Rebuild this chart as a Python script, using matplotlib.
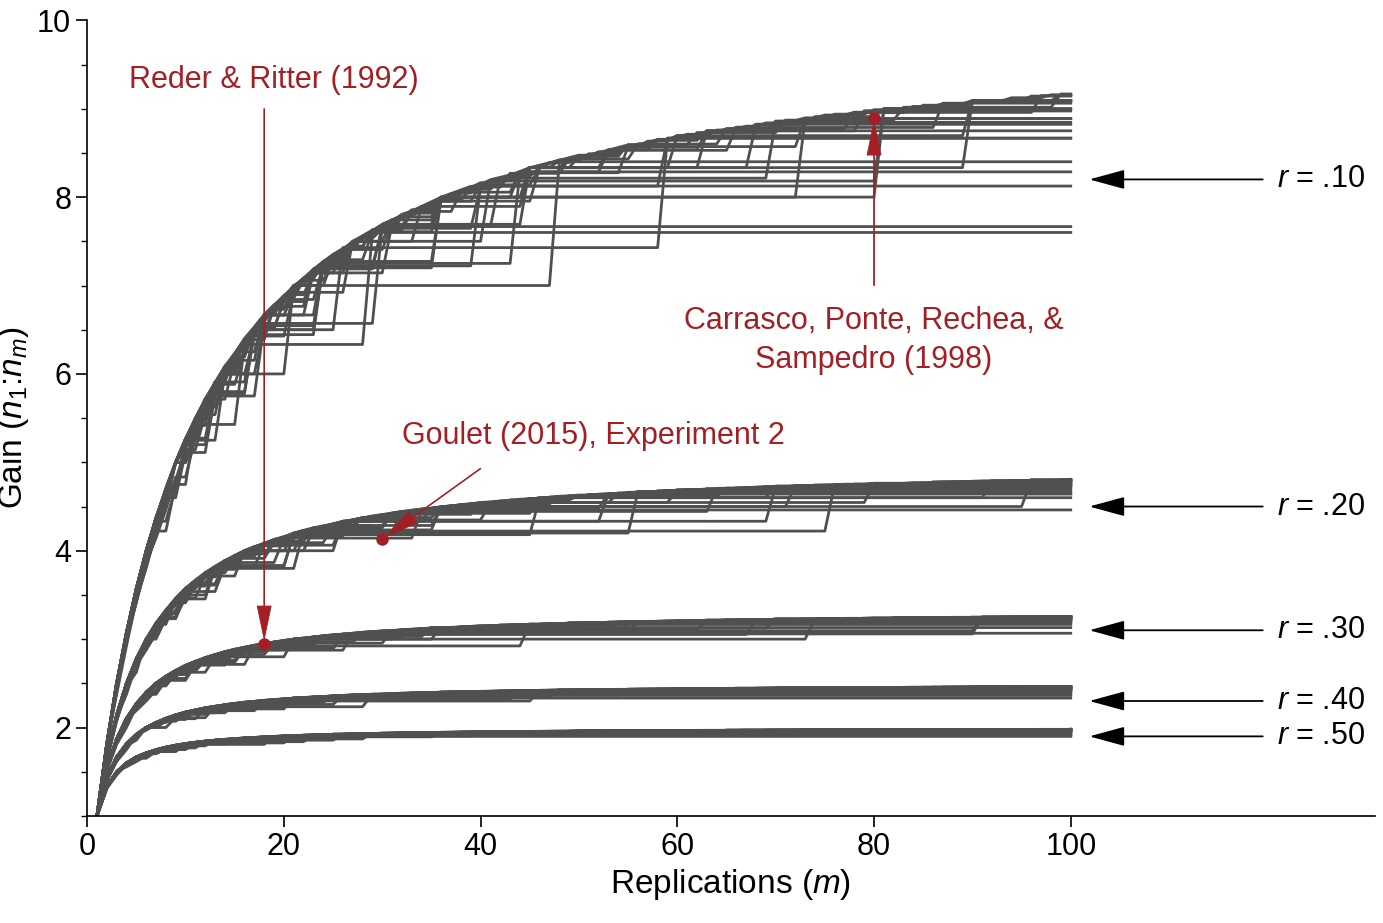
import numpy as np
import matplotlib.pyplot as plt

plt.rcParams['font.family'] = ['Liberation Sans', 'DejaVu Sans']
plt.rcParams['mathtext.fontset'] = 'custom'
plt.rcParams['mathtext.it'] = 'Liberation Sans:italic'
plt.rcParams['mathtext.rm'] = 'Liberation Sans'

# correlation between replications, one band of curves each
r_values = [0.10, 0.20, 0.30, 0.40, 0.50]
r_labels = ['.10', '.20', '.30', '.40', '.50']
r_arrow_y = [8.2, 4.5, 3.1, 2.3, 1.9]
# sample size of a single study, one curve each
n1_values = [38, 42, 46, 52, 58, 65, 72, 80, 90, 100, 115, 130, 150, 175,
             200, 240, 290, 350, 430, 550, 700, 900, 1200, 1600, 2500]
m_values = np.arange(1, 101)

# highlighted studies: (label, m, gain)
studies = [('Reder & Ritter (1992)', 18, 2.95),
           ('Goulet (2015), Experiment 2', 30, 4.13),
           ('Carrasco, Ponte, Rechea, &\nSampedro (1998)', 80, 8.9)]

red = '#a31f24'
grey = '#4f5150'

fig = plt.figure(figsize=(13.83, 9.23), dpi=100)
ax = fig.add_axes([0.063, 0.116, 0.931, 0.862])

for r in r_values:
    for n1 in n1_values:
        nm = np.ceil(n1 * (1 + (m_values - 1) * r) / m_values)
        ax.plot(m_values, n1 / nm, color=grey, lw=2.0, zorder=2)

ax.set_xlim(0, 130.9)
ax.set_ylim(1, 10)
ax.set_xticks([0, 20, 40, 60, 80, 100])
ax.set_yticks([2, 4, 6, 8, 10])
ax.set_yticks(np.arange(1, 10.01, 0.5), minor=True)
ax.tick_params(labelsize=22, length=8, width=1.2)
ax.tick_params(which='minor', length=4, width=1)
for s in ['top', 'right']:
    ax.spines[s].set_visible(False)
for s in ['left', 'bottom']:
    ax.spines[s].set_linewidth(1.2)
ax.set_xlabel('Replications ($m$)', fontsize=24, labelpad=4)
ax.set_ylabel('Gain ($n_1$:$n_m$)', fontsize=24, labelpad=4)

# right-side r labels
for lab, y in zip(r_labels, r_arrow_y):
    ax.annotate('', xy=(101.6, y), xytext=(119.8, y),
                arrowprops=dict(arrowstyle='-|>,head_length=2.2,head_width=0.6',
                                color='black', lw=1.3), annotation_clip=False)
    ax.text(121, y, '$r$ = ' + lab, fontsize=22, va='center', ha='left')

# highlighted studies
(l1, m1, g1), (l2, m2, g2), (l3, m3, g3) = studies
style = 'simple,head_length=2.4,head_width=1.0,tail_width=0.05'
for lab, m, g, tx, ty in [(l1, m1, g1, m1, 9.0),
                          (l2, m2, g2, 40, 4.93),
                          (l3, m3, g3, m3, 7.0)]:
    ax.plot(m, g, 'o', color=red, ms=8, zorder=5)
    ax.annotate('', xy=(m, g), xytext=(tx, ty),
                arrowprops=dict(arrowstyle=style, color=red, lw=0.6,
                                shrinkA=0, shrinkB=3), zorder=4)
ax.text(19, 9.32, l1, color=red, fontsize=22, ha='center', va='center')
ax.text(51.5, 5.3, l2, color=red, fontsize=22, ha='center', va='center')
ax.text(80, 6.38, l3, color=red, fontsize=22, ha='center', va='center',
        linespacing=1.4)

fig.savefig('out.png', dpi=100)
